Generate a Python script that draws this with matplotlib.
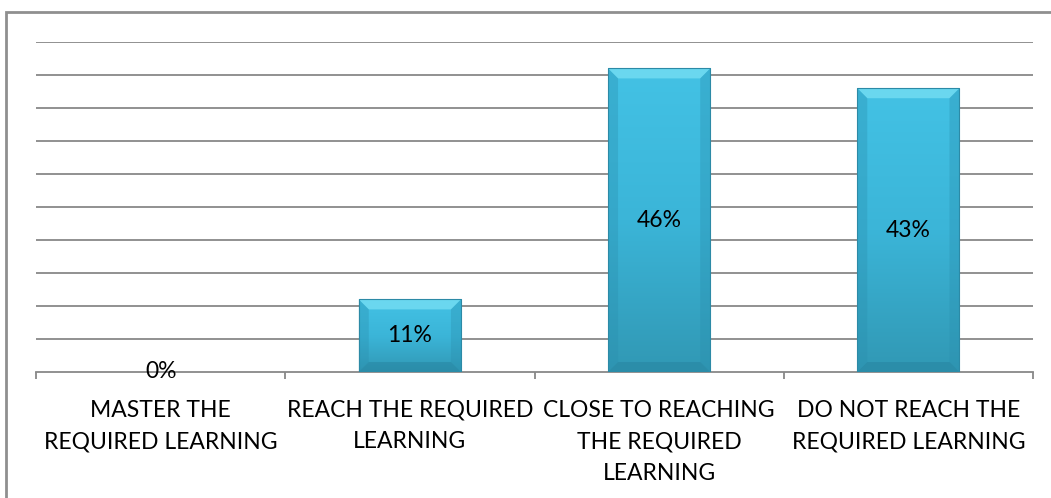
import numpy as np
import matplotlib
matplotlib.use('Agg')
import matplotlib.pyplot as plt
from matplotlib.patches import Polygon, Rectangle
from matplotlib.colors import LinearSegmentedColormap

categories = ['MASTER THE\nREQUIRED LEARNING',
              'REACH THE REQUIRED\nLEARNING',
              'CLOSE TO REACHING\nTHE REQUIRED\nLEARNING',
              'DO NOT REACH THE\nREQUIRED LEARNING']
values = [0.00, 0.11, 0.46, 0.43]
value_labels = ['0%', '11%', '46%', '43%']

plt.rcParams['font.family'] = ['Lato', 'DejaVu Sans']

fig = plt.figure(figsize=(10.51, 4.98), dpi=100)
ax = fig.add_axes([36 / 1051, 1 - 372 / 498, 997 / 1051, 330 / 498])

x = np.arange(len(categories))
bar_w = 0.41
ax.set_xlim(-0.5, len(categories) - 0.5)
ax.set_ylim(0, 0.5)

# horizontal gridlines every 5%
for g in np.arange(0.05, 0.501, 0.05):
    ax.axhline(g, color='#888888', lw=1.3, zorder=1)

grad = LinearSegmentedColormap.from_list('bar', ['#3198b4', '#3bb5d8', '#43c2e5'])
bars = ax.bar(x, values, width=bar_w, color='none', zorder=3)

# pixel size of the bevel edge in data units
px_x = (ax.get_xlim()[1] - ax.get_xlim()[0]) / 997
px_y = 0.5 / 330
bev = 10

for b in bars:
    x0, y0 = b.get_x(), b.get_y()
    w, h = b.get_width(), b.get_height()
    if h <= 0:
        continue
    x1, y1 = x0 + w, y0 + h
    # vertical gradient body
    ax.imshow(np.linspace(0, 1, 256).reshape(-1, 1), cmap=grad, origin='lower',
              extent=[x0, x1, y0, y1], aspect='auto', zorder=3)
    bx, by = bev * px_x, bev * px_y
    # bevel faces: top light, sides and bottom darker
    ax.add_patch(Polygon([[x0, y1], [x1, y1], [x1 - bx, y1 - by], [x0 + bx, y1 - by]],
                         closed=True, color='#72dcf2', alpha=0.85, lw=0, zorder=4))
    ax.add_patch(Polygon([[x0, y0], [x0, y1], [x0 + bx, y1 - by], [x0 + bx, y0 + by]],
                         closed=True, color='#2a8fae', alpha=0.35, lw=0, zorder=4))
    ax.add_patch(Polygon([[x1, y0], [x1, y1], [x1 - bx, y1 - by], [x1 - bx, y0 + by]],
                         closed=True, color='#2a8fae', alpha=0.35, lw=0, zorder=4))
    ax.add_patch(Polygon([[x0, y0], [x1, y0], [x1 - bx, y0 + by], [x0 + bx, y0 + by]],
                         closed=True, color='#24809c', alpha=0.45, lw=0, zorder=4))
    ax.add_patch(Rectangle((x0, y0), w, h, fill=False, ec='#2c8aa6', lw=0.8, zorder=5))

for xi, v, lab in zip(x, values, value_labels):
    ax.text(xi, v / 2, lab, ha='center', va='center', fontsize=16.5, color='black', zorder=6)

for s in ['top', 'right', 'left']:
    ax.spines[s].set_visible(False)
ax.spines['bottom'].set_color('#888888')
ax.spines['bottom'].set_linewidth(1.3)
ax.spines['bottom'].set_zorder(2)

ax.set_yticks([])
ax.set_xticks(x)
ax.set_xticklabels(categories, fontsize=16.5, linespacing=1.62, va='top')
ax.tick_params(axis='x', which='major', length=0, pad=20)
ax.set_xticks(np.arange(-0.5, len(categories), 1), minor=True)
ax.tick_params(axis='x', which='minor', length=5, color='#888888', width=1.3, direction='out')

# chart area border
fig.add_artist(Rectangle((6 / 1051, -0.05), 1.1, 1 - 12 / 498 + 0.05,
                         transform=fig.transFigure, fill=False, ec='#8f8f8f', lw=2))

fig.savefig('out.png', dpi=100)
